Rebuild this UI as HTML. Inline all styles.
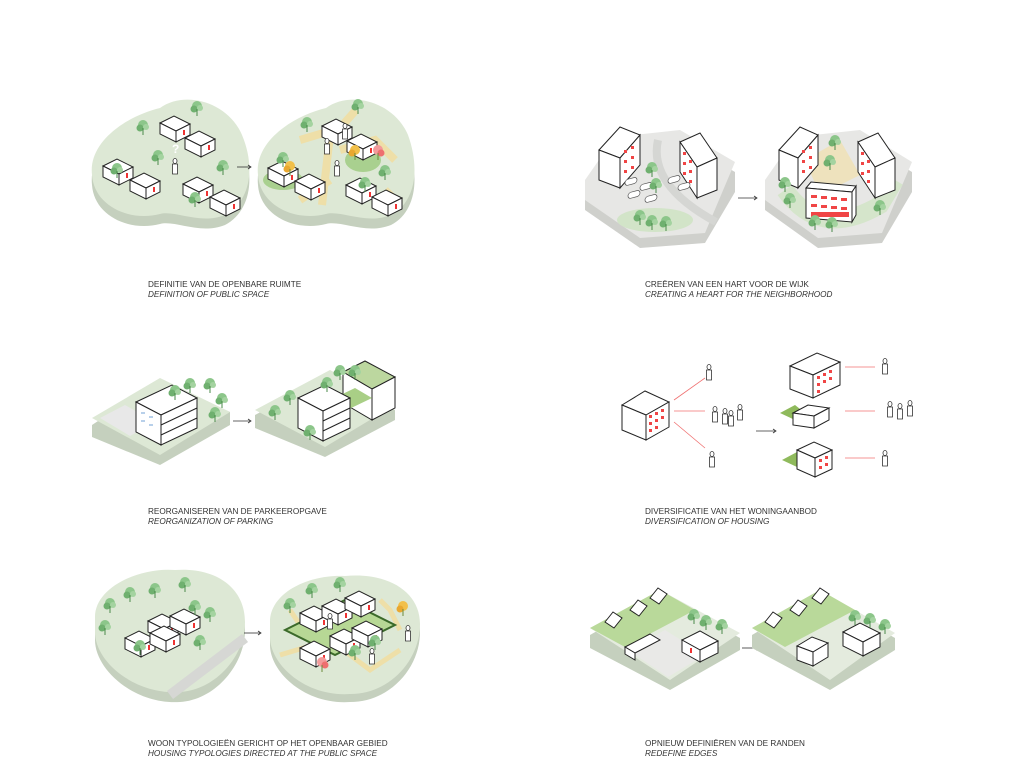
<!DOCTYPE html>
<html><head><meta charset="utf-8"><style>
html,body{margin:0;padding:0;background:#fff;width:1018px;height:764px;overflow:hidden}
svg{display:block}
text{font-family:"Liberation Sans",sans-serif;font-size:8.2px;fill:#333}
.i{font-style:italic}
</style></head><body>
<svg width="1018" height="764" viewBox="0 0 1018 764" xmlns="http://www.w3.org/2000/svg">
<defs>
<g id="b"><polygon points="0,8 14,1 30,9 16,16" fill="#fff" stroke="#222" stroke-width="1"/><polygon points="0,8 16,16 16,27 0,19" fill="#fff" stroke="#222"/><polygon points="16,16 30,9 30,20 16,27" fill="#fff" stroke="#222"/><rect x="23" y="15" width="2" height="5" fill="#e33"/></g>
<g id="t"><circle cx="0" cy="0" r="5" fill="#8cc68a"/><circle cx="-3" cy="3" r="3.5" fill="#6fb06f"/><circle cx="3" cy="2" r="3" fill="#a4d3a0"/><line x1="0" y1="3" x2="0" y2="10" stroke="#4a8a4a"/></g>
<g id="ty"><circle cx="0" cy="0" r="5" fill="#f2c04a"/><circle cx="-3" cy="3" r="3.5" fill="#e9a830"/><line x1="0" y1="3" x2="0" y2="10" stroke="#6a8a3a"/></g>
<g id="tr"><circle cx="0" cy="0" r="5" fill="#f39a9a"/><circle cx="3" cy="3" r="3.5" fill="#ee6f6f"/><line x1="0" y1="3" x2="0" y2="10" stroke="#6a8a3a"/></g>
<g id="p"><ellipse cx="0" cy="-9" rx="2" ry="2.5" fill="#fff" stroke="#333" stroke-width=".8"/><path d="M-2.5,-6 h5 v10 h-5z" fill="#fff" stroke="#333" stroke-width=".8"/></g>
<g id="car"><rect x="0" y="0" width="12" height="6" rx="3" fill="#fff" stroke="#555" stroke-width=".7" transform="skewY(-15)"/></g>
</defs>

<!-- ===== Panel 1 ===== -->
<path d="M92,185 C88,150 130,125 160,118 C185,100 228,112 242,145 C256,178 250,212 225,225 C200,235 175,220 160,224 C128,232 94,215 92,185Z" fill="#c5d0be"/>
<path d="M92,175 C88,140 130,115 160,108 C185,90 228,102 242,135 C256,168 250,202 225,215 C200,225 175,210 160,214 C128,222 94,205 92,175Z" fill="#dde8d5"/>
<use href="#b" x="160" y="115"/><use href="#b" x="185" y="130"/><use href="#b" x="103" y="158"/><use href="#b" x="130" y="172"/><use href="#b" x="183" y="176"/><use href="#b" x="210" y="189"/>
<use href="#t" x="197" y="106"/><use href="#t" x="143" y="125"/><use href="#t" x="158" y="155"/><use href="#t" x="117" y="168"/><use href="#t" x="223" y="165"/><use href="#t" x="195" y="197"/>
<use href="#p" x="175" y="170"/>
<text x="172" y="153" style="font-size:12px;fill:#fff;font-weight:bold">?</text>
<line x1="237" y1="167" x2="250" y2="167" stroke="#333" stroke-width=".8"/><path d="M248,165 l3,2 -3,2" fill="none" stroke="#333" stroke-width=".8"/>
<path d="M258,185 C254,150 296,125 326,118 C351,100 394,112 408,145 C420,178 416,212 391,225 C366,235 341,220 326,224 C294,232 260,215 258,185Z" fill="#c5d0be"/>
<path d="M258,175 C254,140 296,115 326,108 C351,90 394,102 408,135 C420,168 416,202 391,215 C366,225 341,210 326,214 C294,222 260,205 258,175Z" fill="#dde8d5"/>
<path d="M300,140 L340,128 L356,110 M330,135 L322,205 M340,150 L375,140 L395,160 M330,180 L300,200 M385,190 L400,205" stroke="#eedfa8" stroke-width="8" fill="none"/>
<ellipse cx="283" cy="180" rx="20" ry="10" fill="#a9d08f"/><ellipse cx="363" cy="160" rx="18" ry="12" fill="#a9d08f"/>
<use href="#b" x="322" y="118"/><use href="#b" x="347" y="133"/><use href="#b" x="268" y="160"/><use href="#b" x="295" y="173"/><use href="#b" x="346" y="177"/><use href="#b" x="372" y="189"/>
<use href="#t" x="358" y="104"/><use href="#t" x="307" y="122"/><use href="#ty" x="290" y="166"/><use href="#ty" x="355" y="150"/><use href="#tr" x="378" y="150"/><use href="#t" x="283" y="157"/><use href="#t" x="385" y="170"/><use href="#t" x="365" y="182"/>
<use href="#p" x="337" y="172"/><use href="#p" x="327" y="150"/><use href="#p" x="345" y="135"/>
<text x="148" y="287">DEFINITIE VAN DE OPENBARE RUIMTE</text>
<text x="148" y="297" class="i">DEFINITION OF PUBLIC SPACE</text>

<!-- ===== Panel 2 ===== -->
<polygon points="585,190 615,147 680,140 735,172 735,192 705,243 640,248 585,210" fill="#cfd0cc"/>
<polygon points="585,180 615,137 680,130 735,162 705,233 640,238 585,200" fill="#e7e7e5"/>
<path d="M658,140 Q648,185 716,222" stroke="#d5d6d3" stroke-width="8" fill="none"/>
<ellipse cx="655" cy="220" rx="38" ry="12" fill="#d2e4c8"/>
<polygon points="599,150 620,127 640,135 620,158" fill="#fff" stroke="#222"/><polygon points="599,150 620,158 620,188 599,180" fill="#fff" stroke="#222"/><polygon points="620,158 640,135 640,165 620,188" fill="#fff" stroke="#222"/>
<g fill="#f04545"><rect x="624" y="150" width="3" height="3"/><rect x="631" y="146" width="3" height="3"/><rect x="624" y="160" width="3" height="3"/><rect x="631" y="156" width="3" height="3"/><rect x="624" y="170" width="3" height="3"/><rect x="631" y="166" width="3" height="3"/></g>
<polygon points="680,142 700,133 717,158 697,167" fill="#fff" stroke="#222"/><polygon points="680,142 697,167 697,198 680,172" fill="#fff" stroke="#222"/><polygon points="697,167 717,158 717,190 697,198" fill="#fff" stroke="#222"/>
<g fill="#f04545"><rect x="683" y="152" width="3" height="3"/><rect x="689" y="160" width="3" height="3"/><rect x="683" y="162" width="3" height="3"/><rect x="689" y="170" width="3" height="3"/><rect x="683" y="172" width="3" height="3"/><rect x="689" y="180" width="3" height="3"/></g>
<use href="#car" x="625" y="180"/><use href="#car" x="640" y="185"/><use href="#car" x="628" y="193"/><use href="#car" x="645" y="197"/><use href="#car" x="668" y="178"/><use href="#car" x="678" y="185"/>
<use href="#t" x="652" y="167"/><use href="#t" x="656" y="183"/><use href="#t" x="640" y="215"/><use href="#t" x="652" y="220"/><use href="#t" x="666" y="221"/>
<line x1="738" y1="198" x2="756" y2="198" stroke="#333" stroke-width=".8"/><path d="M754,196 l3,2 -3,2" fill="none" stroke="#333" stroke-width=".8"/>
<polygon points="765,190 795,147 860,140 912,172 912,192 882,243 818,248 765,210" fill="#cfd0cc"/>
<polygon points="765,180 795,137 860,130 912,162 882,233 818,238 765,200" fill="#e7e7e5"/>
<path d="M785,190 Q820,240 880,205 L895,180" stroke="#d5e5cb" stroke-width="18" fill="none"/>
<polygon points="805,160 840,140 860,175 820,195" fill="#eee2bd"/>
<polygon points="779,150 800,127 818,135 798,158" fill="#fff" stroke="#222"/><polygon points="779,150 798,158 798,188 779,180" fill="#fff" stroke="#222"/><polygon points="798,158 818,135 818,165 798,188" fill="#fff" stroke="#222"/>
<g fill="#f04545"><rect x="802" y="150" width="3" height="3"/><rect x="809" y="146" width="3" height="3"/><rect x="802" y="160" width="3" height="3"/><rect x="809" y="156" width="3" height="3"/><rect x="802" y="170" width="3" height="3"/><rect x="809" y="166" width="3" height="3"/></g>
<polygon points="858,142 878,133 895,158 875,167" fill="#fff" stroke="#222"/><polygon points="858,142 875,167 875,198 858,172" fill="#fff" stroke="#222"/><polygon points="875,167 895,158 895,190 875,198" fill="#fff" stroke="#222"/>
<g fill="#f04545"><rect x="861" y="152" width="3" height="3"/><rect x="867" y="160" width="3" height="3"/><rect x="861" y="162" width="3" height="3"/><rect x="867" y="170" width="3" height="3"/><rect x="861" y="172" width="3" height="3"/><rect x="867" y="180" width="3" height="3"/></g>
<polygon points="806,188 811,182 856,186 852,192" fill="#fff" stroke="#222"/><polygon points="806,188 852,192 852,222 806,218" fill="#fff" stroke="#222"/><polygon points="852,192 856,186 856,215 852,222" fill="#fff" stroke="#222"/>
<g fill="#f04545"><rect x="811" y="195" width="6" height="3"/><rect x="821" y="196" width="6" height="3"/><rect x="831" y="197" width="6" height="3"/><rect x="841" y="198" width="6" height="3"/><rect x="811" y="204" width="6" height="3"/><rect x="821" y="205" width="6" height="3"/><rect x="831" y="206" width="6" height="3"/><rect x="841" y="207" width="6" height="3"/><rect x="811" y="212" width="38" height="5"/></g>
<use href="#t" x="835" y="140"/><use href="#t" x="830" y="160"/><use href="#t" x="785" y="182"/><use href="#t" x="790" y="198"/><use href="#t" x="815" y="220"/><use href="#t" x="832" y="222"/><use href="#t" x="880" y="205"/>
<text x="645" y="287">CREËREN VAN EEN HART VOOR DE WIJK</text>
<text x="645" y="297" class="i">CREATING A HEART FOR THE NEIGHBORHOOD</text>

<!-- ===== Panel 3 ===== -->
<polygon points="92,425 160,380 230,412 230,425 160,465 92,437" fill="#c5d0be"/>
<polygon points="92,418 160,378 230,412 160,455" fill="#dde8d5"/>
<polygon points="100,418 125,405 155,422 130,436" fill="#e8e8e8"/>
<polygon points="136,402 172,385 197,398 161,415" fill="#fff" stroke="#222"/><polygon points="136,402 161,415 161,445 136,432" fill="#fff" stroke="#222"/><polygon points="161,415 197,398 197,428 161,445" fill="#fff" stroke="#222"/>
<g fill="#b8d0ea"><rect x="141" y="412" width="4" height="2"/><rect x="149" y="416" width="4" height="2"/><rect x="141" y="420" width="4" height="2"/><rect x="149" y="424" width="4" height="2"/></g>
<line x1="161" y1="425" x2="197" y2="408" stroke="#222"/><line x1="161" y1="435" x2="197" y2="418" stroke="#222"/>
<use href="#t" x="190" y="383"/><use href="#t" x="210" y="383"/><use href="#t" x="175" y="390"/><use href="#t" x="222" y="398"/><use href="#t" x="215" y="412"/>
<line x1="233" y1="421" x2="250" y2="421" stroke="#333" stroke-width=".8"/><path d="M248,419 l3,2 -3,2" fill="none" stroke="#333" stroke-width=".8"/>
<polygon points="255,415 330,375 395,410 395,420 325,457 255,428" fill="#c5d0be"/>
<polygon points="255,410 330,370 395,405 325,447" fill="#dde8d5"/>
<polygon points="343,372 365,361 395,377 372,389" fill="#bcd79f" stroke="#222"/><polygon points="343,372 372,389 372,420 343,403" fill="#fff" stroke="#222"/><polygon points="372,389 395,377 395,408 372,420" fill="#fff" stroke="#222"/>
<polygon points="330,400 355,388 372,398 347,410" fill="#a9cf86"/>
<polygon points="298,398 325,385 350,398 323,411" fill="#fff" stroke="#222"/><polygon points="298,398 323,411 323,441 298,428" fill="#fff" stroke="#222"/><polygon points="323,411 350,398 350,428 323,441" fill="#fff" stroke="#222"/>
<line x1="323" y1="421" x2="350" y2="408" stroke="#222"/><line x1="323" y1="431" x2="350" y2="418" stroke="#222"/>
<use href="#t" x="340" y="370"/><use href="#t" x="355" y="370"/><use href="#t" x="327" y="382"/><use href="#t" x="290" y="395"/><use href="#t" x="275" y="410"/><use href="#t" x="310" y="430"/>
<text x="148" y="514">REORGANISEREN VAN DE PARKEEROPGAVE</text>
<text x="148" y="524" class="i">REORGANIZATION OF PARKING</text>

<!-- ===== Panel 4 ===== -->
<polygon points="622,405 645,391 669,402 646,415" fill="#fff" stroke="#222"/><polygon points="622,405 646,415 646,440 622,430" fill="#fff" stroke="#222"/><polygon points="646,415 669,402 669,427 646,440" fill="#fff" stroke="#222"/>
<g fill="#f04545"><rect x="649" y="415" width="3" height="3"/><rect x="655" y="412" width="3" height="3"/><rect x="661" y="409" width="3" height="3"/><rect x="649" y="422" width="3" height="3"/><rect x="655" y="419" width="3" height="3"/><rect x="661" y="416" width="3" height="3"/><rect x="649" y="429" width="3" height="3"/><rect x="655" y="426" width="3" height="3"/></g>
<g stroke="#f07070" stroke-width=".8"><line x1="674" y1="400" x2="705" y2="378"/><line x1="674" y1="411" x2="705" y2="411"/><line x1="674" y1="422" x2="705" y2="448"/></g>
<use href="#p" x="709" y="376"/><use href="#p" x="715" y="418"/><use href="#p" x="725" y="420"/><use href="#p" x="731" y="422"/><use href="#p" x="740" y="416"/><use href="#p" x="712" y="463"/>
<line x1="756" y1="431" x2="775" y2="431" stroke="#333" stroke-width=".8"/><path d="M773,429 l3,2 -3,2" fill="none" stroke="#333" stroke-width=".8"/>
<polygon points="790,366 817,353 840,362 813,375" fill="#fff" stroke="#222"/><polygon points="790,366 813,375 813,398 790,389" fill="#fff" stroke="#222"/><polygon points="813,375 840,362 840,385 813,398" fill="#fff" stroke="#222"/>
<g fill="#f04545"><rect x="817" y="376" width="3" height="3"/><rect x="823" y="373" width="3" height="3"/><rect x="829" y="370" width="3" height="3"/><rect x="817" y="383" width="3" height="3"/><rect x="823" y="380" width="3" height="3"/><rect x="829" y="377" width="3" height="3"/><rect x="817" y="390" width="3" height="3"/></g>
<polygon points="780,413 795,405 805,413 795,420" fill="#8fba5c"/>
<polygon points="793,413 808,405 829,408 814,416" fill="#fff" stroke="#222"/><polygon points="793,413 814,416 814,428 793,425" fill="#fff" stroke="#222"/><polygon points="814,416 829,408 829,420 814,428" fill="#fff" stroke="#222"/>
<polygon points="782,460 797,452 807,460 797,467" fill="#8fba5c"/>
<polygon points="797,450 814,442 832,450 815,458" fill="#fff" stroke="#222"/><polygon points="797,450 815,458 815,477 797,469" fill="#fff" stroke="#222"/><polygon points="815,458 832,450 832,469 815,477" fill="#fff" stroke="#222"/>
<g fill="#f04545"><rect x="819" y="459" width="3" height="3"/><rect x="825" y="456" width="3" height="3"/><rect x="819" y="466" width="3" height="3"/><rect x="825" y="463" width="3" height="3"/></g>
<g stroke="#f07070" stroke-width=".8"><line x1="845" y1="367" x2="875" y2="367"/><line x1="845" y1="411" x2="875" y2="411"/><line x1="845" y1="458" x2="875" y2="458"/></g>
<use href="#p" x="885" y="370"/><use href="#p" x="890" y="413"/><use href="#p" x="900" y="415"/><use href="#p" x="910" y="412"/><use href="#p" x="885" y="462"/>
<text x="645" y="514">DIVERSIFICATIE VAN HET WONINGAANBOD</text>
<text x="645" y="524" class="i">DIVERSIFICATION OF HOUSING</text>

<!-- ===== Panel 5 ===== -->
<path d="M95,625 C95,595 140,575 175,578 C215,575 245,595 245,630 C245,665 215,700 180,702 C135,705 95,670 95,640Z" fill="#c5d0be"/>
<path d="M95,617 C95,587 140,567 175,570 C215,567 245,587 245,622 C245,657 215,690 180,692 C135,695 95,662 95,632Z" fill="#dde8d5"/>
<path d="M170,695 L245,638" stroke="#d6d7d4" stroke-width="10"/>
<use href="#b" x="148" y="613"/><use href="#b" x="170" y="608"/><use href="#b" x="125" y="630"/><use href="#b" x="150" y="625"/>
<use href="#t" x="110" y="603"/><use href="#t" x="130" y="592"/><use href="#t" x="155" y="588"/><use href="#t" x="185" y="582"/><use href="#t" x="105" y="625"/><use href="#t" x="140" y="645"/><use href="#t" x="195" y="605"/><use href="#t" x="210" y="612"/><use href="#t" x="200" y="640"/>
<line x1="244" y1="633" x2="260" y2="633" stroke="#333" stroke-width=".8"/><path d="M258,631 l3,2 -3,2" fill="none" stroke="#333" stroke-width=".8"/>
<path d="M270,630 C270,600 310,582 345,584 C385,580 420,598 420,632 C420,668 390,702 350,702 C305,705 270,672 270,645Z" fill="#c5d0be"/>
<path d="M270,622 C270,592 310,574 345,576 C385,572 420,590 420,624 C420,660 390,694 350,694 C305,697 270,664 270,637Z" fill="#dde8d5"/>
<path d="M280,655 L330,640 L370,670 L400,650 M380,600 L390,610 L400,630 M300,625 L290,610" stroke="#eedfa8" stroke-width="5" fill="none"/>
<polygon points="285,630 345,600 395,625 335,655" fill="#b7d895" stroke="#3b6a2a" stroke-width="2"/>
<use href="#b" x="300" y="605"/><use href="#b" x="322" y="598"/><use href="#b" x="345" y="590"/><use href="#b" x="330" y="628"/><use href="#b" x="352" y="620"/><use href="#b" x="300" y="640"/>
<use href="#t" x="290" y="603"/><use href="#t" x="312" y="588"/><use href="#t" x="340" y="582"/><use href="#ty" x="403" y="606"/><use href="#tr" x="322" y="662"/><use href="#t" x="375" y="640"/><use href="#t" x="355" y="650"/>
<use href="#p" x="330" y="625"/><use href="#p" x="372" y="660"/><use href="#p" x="408" y="637"/>
<text x="148" y="746">WOON TYPOLOGIEËN GERICHT OP HET OPENBAAR GEBIED</text>
<text x="148" y="756" class="i">HOUSING TYPOLOGIES DIRECTED AT THE PUBLIC SPACE</text>

<!-- ===== Panel 6 ===== -->
<polygon points="590,635 660,595 740,638 740,650 670,690 590,648" fill="#c5d0be"/>
<polygon points="590,628 660,590 740,633 670,680" fill="#e4ebde"/>
<polygon points="590,628 660,590 695,610 625,647" fill="#b9d99a"/>
<polygon points="628,650 665,630 705,655 668,677" fill="#e9e9e7"/>
<g transform="translate(0,0)"><polygon points="605,622 613,612 622,618 614,628" fill="#fff" stroke="#222"/><polygon points="630,610 638,600 647,606 639,616" fill="#fff" stroke="#222"/><polygon points="650,598 658,588 667,594 659,604" fill="#fff" stroke="#222"/></g>
<polygon points="625,647 650,634 660,640 635,653" fill="#fff" stroke="#222"/><polygon points="625,647 635,653 635,660 625,654" fill="#fff" stroke="#222"/>
<polygon points="682,640 700,631 718,641 700,650" fill="#fff" stroke="#222"/><polygon points="682,640 700,650 700,662 682,652" fill="#fff" stroke="#222"/><polygon points="700,650 718,641 718,653 700,662" fill="#fff" stroke="#222"/><rect x="690" y="648" width="2" height="5" fill="#e33"/>
<use href="#t" x="694" y="614"/><use href="#t" x="706" y="620"/><use href="#t" x="722" y="624"/>
<line x1="742" y1="648" x2="758" y2="648" stroke="#333" stroke-width=".8"/><path d="M756,646 l3,2 -3,2" fill="none" stroke="#333" stroke-width=".8"/>
<polygon points="752,635 820,595 895,638 895,650 830,690 752,648" fill="#c5d0be"/>
<polygon points="752,628 820,590 895,633 830,680" fill="#e4ebde"/>
<polygon points="752,628 820,590 855,610 785,647" fill="#b9d99a"/>
<polygon points="765,622 773,612 782,618 774,628" fill="#fff" stroke="#222"/><polygon points="790,610 798,600 807,606 799,616" fill="#fff" stroke="#222"/><polygon points="812,598 820,588 829,594 821,604" fill="#fff" stroke="#222"/>
<polygon points="797,646 812,637 828,643 813,652" fill="#fff" stroke="#222"/><polygon points="797,646 813,652 813,666 797,660" fill="#fff" stroke="#222"/><polygon points="813,652 828,643 828,657 813,666" fill="#fff" stroke="#222"/>
<polygon points="843,632 860,623 880,633 863,642" fill="#fff" stroke="#222"/><polygon points="843,632 863,642 863,656 843,646" fill="#fff" stroke="#222"/><polygon points="863,642 880,633 880,647 863,656" fill="#fff" stroke="#222"/>
<use href="#t" x="855" y="615"/><use href="#t" x="870" y="618"/><use href="#t" x="885" y="624"/>
<text x="645" y="746">OPNIEUW DEFINIËREN VAN DE RANDEN</text>
<text x="645" y="756" class="i">REDEFINE EDGES</text>
</svg>
</body></html>
